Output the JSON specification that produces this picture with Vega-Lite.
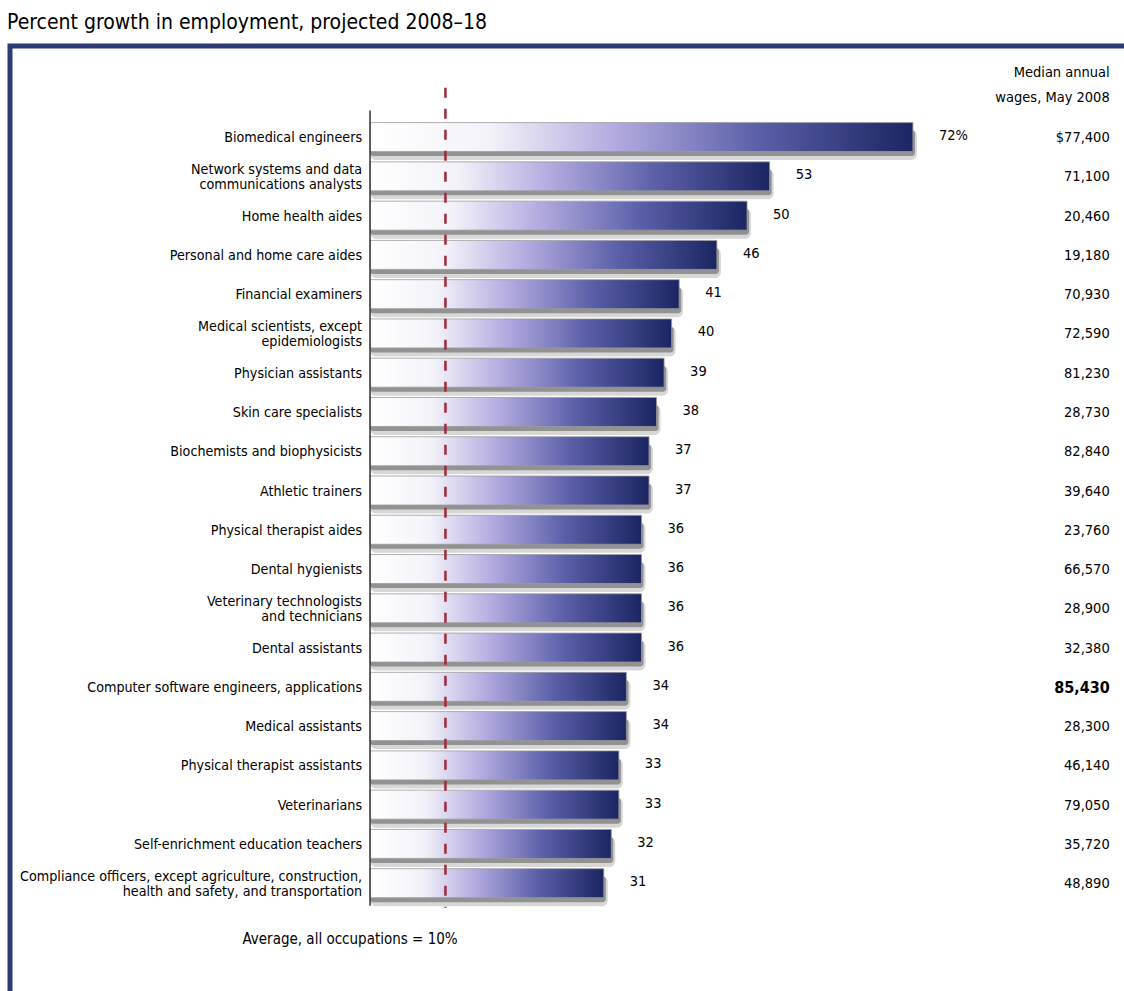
{
  "$schema": "https://vega.github.io/schema/vega-lite/v6.json",
  "width": 1120,
  "height": 960,
  "autosize": "none",
  "padding": {"left": 10, "top": 46, "right": 0, "bottom": 0},
  "background": "#ffffff",
  "view": {"stroke": "#2c3b78", "strokeWidth": 5, "fill": "#ffffff"},
  "title": {
    "text": "Percent growth in employment, projected 2008–18",
    "anchor": "start",
    "frame": "group",
    "font": "DejaVu Sans Condensed",
    "fontSize": 21,
    "fontWeight": "normal",
    "color": "#000000",
    "offset": 13,
    "dx": -3
  },
  "config": {"font": "DejaVu Sans Condensed"},
  "datasets": {
    "jobs": [
      {"rank": 1, "occupation": ["Biomedical engineers"], "growth": 72, "growth_text": "72%", "wage": 77400, "wage_text": "$77,400"},
      {"rank": 2, "occupation": ["Network systems and data", "communications analysts"], "growth": 53, "growth_text": "53", "wage": 71100, "wage_text": "71,100"},
      {"rank": 3, "occupation": ["Home health aides"], "growth": 50, "growth_text": "50", "wage": 20460, "wage_text": "20,460"},
      {"rank": 4, "occupation": ["Personal and home care aides"], "growth": 46, "growth_text": "46", "wage": 19180, "wage_text": "19,180"},
      {"rank": 5, "occupation": ["Financial examiners"], "growth": 41, "growth_text": "41", "wage": 70930, "wage_text": "70,930"},
      {"rank": 6, "occupation": ["Medical scientists, except", "epidemiologists"], "growth": 40, "growth_text": "40", "wage": 72590, "wage_text": "72,590"},
      {"rank": 7, "occupation": ["Physician assistants"], "growth": 39, "growth_text": "39", "wage": 81230, "wage_text": "81,230"},
      {"rank": 8, "occupation": ["Skin care specialists"], "growth": 38, "growth_text": "38", "wage": 28730, "wage_text": "28,730"},
      {"rank": 9, "occupation": ["Biochemists and biophysicists"], "growth": 37, "growth_text": "37", "wage": 82840, "wage_text": "82,840"},
      {"rank": 10, "occupation": ["Athletic trainers"], "growth": 37, "growth_text": "37", "wage": 39640, "wage_text": "39,640"},
      {"rank": 11, "occupation": ["Physical therapist aides"], "growth": 36, "growth_text": "36", "wage": 23760, "wage_text": "23,760"},
      {"rank": 12, "occupation": ["Dental hygienists"], "growth": 36, "growth_text": "36", "wage": 66570, "wage_text": "66,570"},
      {"rank": 13, "occupation": ["Veterinary technologists", "and technicians"], "growth": 36, "growth_text": "36", "wage": 28900, "wage_text": "28,900"},
      {"rank": 14, "occupation": ["Dental assistants"], "growth": 36, "growth_text": "36", "wage": 32380, "wage_text": "32,380"},
      {"rank": 15, "occupation": ["Computer software engineers, applications"], "growth": 34, "growth_text": "34", "wage": 85430, "wage_text": "85,430"},
      {"rank": 16, "occupation": ["Medical assistants"], "growth": 34, "growth_text": "34", "wage": 28300, "wage_text": "28,300"},
      {"rank": 17, "occupation": ["Physical therapist assistants"], "growth": 33, "growth_text": "33", "wage": 46140, "wage_text": "46,140"},
      {"rank": 18, "occupation": ["Veterinarians"], "growth": 33, "growth_text": "33", "wage": 79050, "wage_text": "79,050"},
      {"rank": 19, "occupation": ["Self-enrichment education teachers"], "growth": 32, "growth_text": "32", "wage": 35720, "wage_text": "35,720"},
      {"rank": 20, "occupation": ["Compliance officers, except agriculture, construction,", "health and safety, and transportation"], "growth": 31, "growth_text": "31", "wage": 48890, "wage_text": "48,890"}
    ],
    "header": [{"header": ["Median annual", "wages, May 2008"]}],
    "note": [{"note": "Average, all occupations =  10%"}],
    "average": [{"average": 10}]
  },
  "resolve": {"scale": {"x": "shared", "y": "shared"}},
  "layer": [
    {
      "data": {"name": "jobs"},
      "mark": {"type": "bar", "orient": "horizontal", "height": 30, "yOffset": 7, "xOffset": 4, "color": "#9a9a9a", "opacity": 0.4, "cornerRadius": 6},
      "encoding": {
        "y": {"field": "rank", "type": "quantitative", "scale": {"domain": [-1.218, 22.975], "reverse": true, "zero": false, "nice": false}, "axis": null},
        "x": {"field": "growth", "type": "quantitative", "scale": {"domain": [-47.75, 100.79], "zero": false, "nice": false}, "axis": null},
        "x2": {"datum": 0}
      }
    },
    {
      "data": {"name": "jobs"},
      "mark": {"type": "bar", "orient": "horizontal", "height": 26, "yOffset": 5, "xOffset": 2, "color": "#5a5a5a", "opacity": 0.55, "cornerRadius": 3},
      "encoding": {
        "y": {"field": "rank", "type": "quantitative"},
        "x": {"field": "growth", "type": "quantitative"},
        "x2": {"datum": 0}
      }
    },
    {
      "data": {"name": "jobs"},
      "mark": {"type": "bar", "orient": "horizontal", "height": 29, "yOffset": -1, "stroke": "#9a9a9a", "strokeWidth": 0.8,
        "color": {"gradient": "linear", "x1": 0, "x2": 1, "y1": 0, "y2": 0, "stops": [
          {"offset": 0, "color": "#ffffff"},
          {"offset": 0.22, "color": "#f3f2f9"},
          {"offset": 0.45, "color": "#b3abe0"},
          {"offset": 0.72, "color": "#5a5ea8"},
          {"offset": 1, "color": "#1c2562"}
        ]}},
      "encoding": {
        "y": {"field": "rank", "type": "quantitative"},
        "x": {"field": "growth", "type": "quantitative"},
        "x2": {"datum": 0}
      }
    },
    {
      "data": {"name": "average"},
      "mark": {"type": "rule", "color": "#333333", "strokeWidth": 1.5},
      "encoding": {"x": {"datum": 0}, "y": {"datum": 0.3}, "y2": {"datum": 20.55}}
    },
    {
      "data": {"name": "average"},
      "mark": {"type": "rule", "color": "#a3283a", "strokeWidth": 2.5, "strokeDash": [10, 11]},
      "encoding": {"x": {"field": "average", "type": "quantitative"}, "y": {"datum": -0.28}, "y2": {"datum": 20.6}}
    },
    {
      "data": {"name": "jobs"},
      "transform": [{"filter": "length(datum.occupation) == 1"}],
      "mark": {"type": "text", "align": "right", "baseline": "middle", "dx": -8, "fontSize": 14.2, "lineHeight": 15, "color": "#000000"},
      "encoding": {"y": {"field": "rank", "type": "quantitative"}, "x": {"datum": 0}, "text": {"field": "occupation"}}
    },
    {
      "data": {"name": "jobs"},
      "transform": [{"filter": "length(datum.occupation) > 1"}],
      "mark": {"type": "text", "align": "right", "baseline": "middle", "dx": -8, "dy": -7.5, "fontSize": 14.2, "lineHeight": 15, "color": "#000000"},
      "encoding": {"y": {"field": "rank", "type": "quantitative"}, "x": {"datum": 0}, "text": {"field": "occupation"}}
    },
    {
      "data": {"name": "jobs"},
      "mark": {"type": "text", "align": "left", "baseline": "middle", "dx": 26, "dy": -2, "fontSize": 14.5, "color": "#000000"},
      "encoding": {"y": {"field": "rank", "type": "quantitative"}, "x": {"field": "growth", "type": "quantitative"}, "text": {"field": "growth_text"}}
    },
    {
      "data": {"name": "jobs"},
      "transform": [
        {"joinaggregate": [{"op": "max", "field": "wage", "as": "max_wage"}]},
        {"filter": "datum.wage !== datum.max_wage"}
      ],
      "mark": {"type": "text", "align": "right", "baseline": "middle", "fontSize": 14.5, "color": "#000000"},
      "encoding": {"y": {"field": "rank", "type": "quantitative"}, "x": {"datum": 98.1}, "text": {"field": "wage_text"}}
    },
    {
      "data": {"name": "jobs"},
      "transform": [
        {"joinaggregate": [{"op": "max", "field": "wage", "as": "max_wage"}]},
        {"filter": "datum.wage === datum.max_wage"}
      ],
      "mark": {"type": "text", "align": "right", "baseline": "middle", "fontSize": 16, "fontWeight": "bold", "color": "#000000"},
      "encoding": {"y": {"field": "rank", "type": "quantitative"}, "x": {"datum": 98.1}, "text": {"field": "wage_text"}}
    },
    {
      "data": {"name": "header"},
      "mark": {"type": "text", "align": "right", "baseline": "middle", "dy": -12, "fontSize": 14.5, "lineHeight": 25, "color": "#000000"},
      "encoding": {"x": {"datum": 98.1}, "y": {"datum": -0.35}, "text": {"field": "header"}}
    },
    {
      "data": {"name": "note"},
      "mark": {"type": "text", "align": "center", "baseline": "middle", "fontSize": 15, "color": "#000000"},
      "encoding": {"x": {"datum": -2.65}, "y": {"datum": 21.39}, "text": {"field": "note"}}
    }
  ]
}
